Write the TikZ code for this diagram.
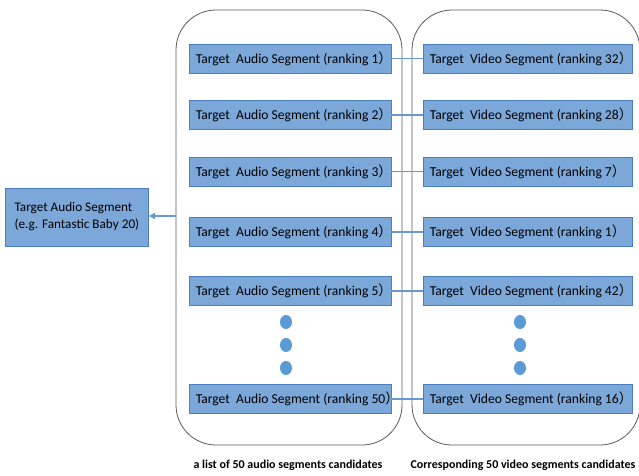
\documentclass[tikz,border=0pt]{standalone}
\usepackage{fontspec}
\setmainfont{Carlito}
\newfontfamily\cjkfont{Noto Sans CJK SC}
\usetikzlibrary{arrows.meta,shapes.geometric}
\definecolor{segfill}{RGB}{124,167,217}
\definecolor{segline}{RGB}{74,126,190}
\definecolor{linkblue}{RGB}{104,152,206}
\definecolor{dotblue}{RGB}{91,155,213}
\definecolor{frame}{RGB}{90,90,90}
\newcommand{\fwp}{{\cjkfont ）}}
\tikzset{
  segbox/.style={draw=segline, line width=0.8pt, fill=segfill, minimum height=29pt, inner sep=0pt},
  audiobox/.style={segbox, minimum width=202pt},
  videobox/.style={segbox, minimum width=209pt},
  segtext/.style={anchor=west, inner sep=0pt, font=\fontsize{13.6}{16}\selectfont, text=black},
  panel/.style={draw=frame, line width=0.8pt, rounded corners=40pt},
  link/.style={draw=linkblue, line width=1.6pt},
  ellipsisdot/.style={fill=dotblue, ellipse, draw=none, minimum width=12pt, minimum height=14pt, inner sep=0pt},
  caption/.style={font=\fontsize{12}{14}\selectfont\bfseries, text=black}
}
\begin{document}
\begin{tikzpicture}[x=1pt,y=-1pt]
\useasboundingbox (0,0) rectangle (639,475);
% the two candidate panels
\draw[panel] (176,10) rectangle (402,445);
\draw[panel] (412,10) rectangle (640,445);

% paired rows: audio rank / vertical position / video rank
\foreach \ra/\y/\rv in {1/58.5/32, 2/115/28, 3/171.5/7, 4/232/1, 5/291/42, 50/399/16} {
  \node[audiobox] (a\ra) at (290,\y) {};
  \node[segtext] (a\ra t) at ([xshift=7pt]a\ra.west) {Target\ \ Audio Segment (ranking \ra\fwp};
  \node[videobox] (v\ra) at (527.5,\y) {};
  \node[segtext] (v\ra t) at ([xshift=7pt]v\ra.west) {Target\ \ Video Segment (ranking \rv\fwp};
  \draw[link] (a\ra.east) -- (v\ra.west);
}

% ellipsis dots
\foreach \y [count=\k] in {322,345,368} {
  \node[ellipsisdot] (ad\k) at (286,\y) {};
  \node[ellipsisdot] (vd\k) at (520,\y) {};
}

% query segment on the left
\node[draw=segline, line width=0.8pt, fill=segfill, minimum width=143pt, minimum height=58pt,
      align=left, font=\fontsize{13.2}{17}\selectfont, anchor=west] (q) at (5,217)
  {Target Audio Segment\\(e.g. Fantastic Baby 20)};
\coordinate (panelL) at (176,216);
\draw[link, -{Triangle[length=6pt,width=6pt]}] (panelL) -- (q.east |- panelL);

% captions
\node[caption] (c1) at (288,465) {a list of 50 audio segments candidates};
\node[caption] (c2) at (523,465) {Corresponding 50 video segments candidates};
\end{tikzpicture}
\end{document}
